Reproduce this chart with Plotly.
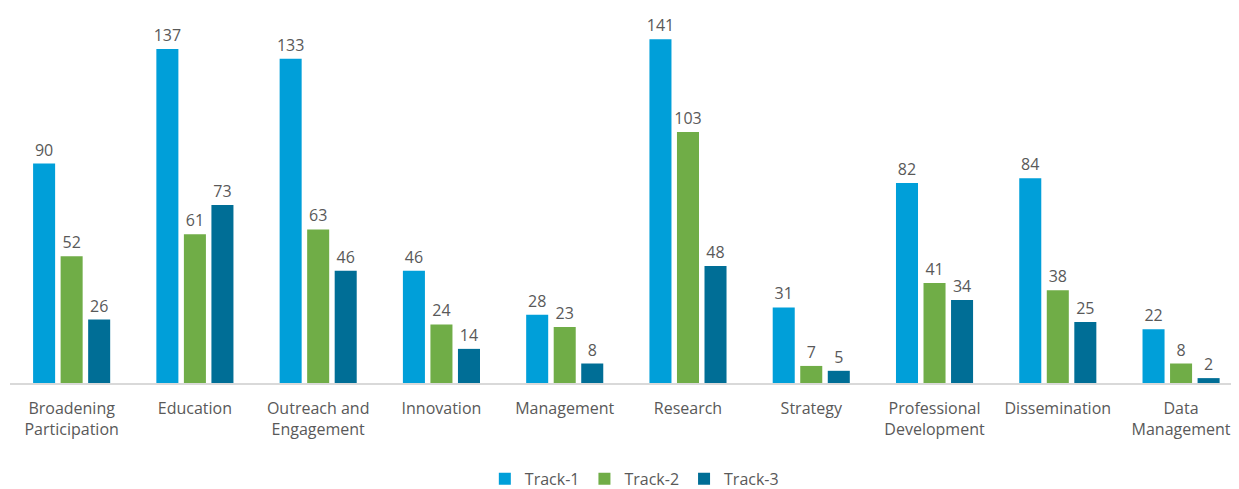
import plotly.graph_objects as go

categories = ["Broadening<br>Participation", "Education", "Outreach and<br>Engagement", "Innovation",
              "Management", "Research", "Strategy", "Professional<br>Development", "Dissemination",
              "Data<br>Management"]
track1 = [90, 137, 133, 46, 28, 141, 31, 82, 84, 22]
track2 = [52, 61, 63, 24, 23, 103, 7, 41, 38, 8]
track3 = [26, 73, 46, 14, 8, 48, 5, 34, 25, 2]
series_names = ["Track-1", "Track-2", "Track-3"]
colors = ["#009FD9", "#70AD47", "#006E96"]

font_family = "Open Sans, Noto Sans, sans-serif"
text_color = "#595959"

fig = go.Figure()
for name, vals, col in zip(series_names, [track1, track2, track3], colors):
    fig.add_trace(go.Bar(
        x=categories, y=vals, name=name, marker=dict(color=col, line=dict(width=0)),
        text=[str(v) for v in vals], textposition="outside",
        textfont=dict(size=16, color=text_color, family=font_family),
        cliponaxis=False, constraintext="none",
    ))

# page body has an 8px margin, so the figure is sized to fit the remaining window
fig.update_layout(
    width=1231, height=481,
    margin=dict(l=2, r=0, t=2, b=106, autoexpand=False),
    paper_bgcolor="white", plot_bgcolor="white",
    barmode="group", bargap=0.33, bargroupgap=0.2,
    font=dict(family=font_family, color=text_color, size=16),
    showlegend=True,
    legend=dict(orientation="h", x=0.508, xanchor="center", yref="container", y=0.021,
                yanchor="middle", font=dict(size=16, color=text_color), traceorder="normal"),
    xaxis=dict(showgrid=False, showline=True, linecolor="#D9D9D9", linewidth=1.5,
               ticks="", tickfont=dict(size=16, color=text_color), ticklabelstandoff=10,
               automargin=False, range=[-0.5, 9.47]),
    yaxis=dict(range=[0, 153], visible=False, showgrid=False, zeroline=False, automargin=False),
)

fig.write_html("out.html")
